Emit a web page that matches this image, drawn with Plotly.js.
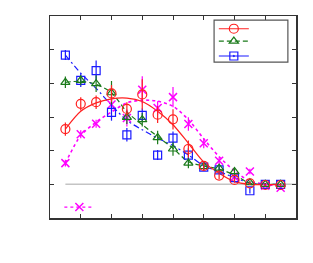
<!DOCTYPE html>
<html>
<head>
<meta charset="utf-8">
<script src="https://cdn.plot.ly/plotly-3.0.1.min.js"></script>
<style>html,body{margin:0;padding:0;background:#fff;}#chart{width:313px;height:263px;}</style>
</head>
<body>
<div id="chart"></div>
<script>
// x positions of the measurements
const xVals = [0.5, 1, 1.5, 2, 2.5, 3, 3.5, 4, 4.5, 5, 5.5, 6, 6.5, 7, 7.5];

// series A (red circles)
const redY   = [1.64, 2.39, 2.44, 2.70, 2.24, 2.67, 2.07, 1.93, 1.05, 0.55, 0.26, 0.13, 0.03, -0.02, -0.02];
const redErr = [0.20, 0.20, 0.20, 0.25, 0.20, 0.45, 0.25, 0.30, 0.25, 0.12, 0.10, 0.08, 0.05, 0.04, 0.04];
const redFit = [1.64, 2.17, 2.42, 2.54, 2.56, 2.46, 2.17, 1.77, 1.22, 0.66, 0.33, 0.08, 0.00, -0.01, -0.01];

// series B (green triangles)
const greenY   = [3.03, 3.09, 2.99, 2.72, 1.99, 1.92, 1.39, 1.05, 0.63, 0.53, 0.48, 0.38, 0.05, 0.00, 0.00];
const greenErr = [0.17, 0.15, 0.25, 0.35, 0.20, 0.20, 0.20, 0.20, 0.15, 0.10, 0.10, 0.10, 0.05, 0.04, 0.04];
const greenFit = [3.03, 3.06, 2.97, 2.72, 2.15, 1.77, 1.42, 1.07, 0.67, 0.55, 0.45, 0.28, 0.03, 0.00, 0.00];

// series C (blue squares)
const blueY   = [3.84, 3.09, 3.38, 2.14, 1.47, 2.05, 0.87, 1.37, 0.87, 0.51, 0.43, 0.20, -0.19, 0.00, 0.00];
const blueErr = [0.15, 0.20, 0.30, 0.25, 0.20, 0.20, 0.15, 0.20, 0.20, 0.10, 0.10, 0.10, 0.08, 0.04, 0.04];
const blueFit = [3.84, 3.30, 2.85, 2.35, 1.90, 1.62, 1.37, 1.15, 0.87, 0.55, 0.38, 0.20, 0.04, 0.00, 0.00];

// series D (magenta crosses)
const magY   = [0.63, 1.49, 1.80, 2.37, 1.97, 2.81, 2.27, 2.59, 1.79, 1.22, 0.70, 0.22, 0.38, -0.04, -0.10];
const magErr = [0.10, 0.12, 0.12, 0.20, 0.25, 0.40, 0.20, 0.30, 0.20, 0.15, 0.10, 0.10, 0.08, 0.05, 0.05];
const magFit = [0.63, 1.45, 1.85, 2.15, 2.42, 2.50, 2.47, 2.32, 1.92, 1.35, 0.82, 0.40, 0.10, 0.00, -0.05];

const RED = '#ff2020', GREEN = '#1a7a1a', BLUE = '#1a1aff', MAG = '#ff00ff';

function fit(y, color, dash, width) {
  return {x: xVals, y: y, type: 'scatter', mode: 'lines', showlegend: false, hoverinfo: 'skip',
          line: {color: color, dash: dash, width: width, shape: 'spline', smoothing: 0.8}};
}
function pts(y, err, color, symbol, size, lw) {
  return {x: xVals, y: y, type: 'scatter', mode: 'markers', showlegend: false,
          marker: {symbol: symbol, size: size, color: color, line: {color: color, width: lw}},
          error_y: {type: 'data', array: err, visible: true, color: color, thickness: 1.2, width: 0}};
}
function leg(color, dash, symbol, size, lw, legendId) {
  return {x: [null], y: [null], type: 'scatter', mode: 'lines+markers', name: '', legend: legendId,
          line: {color: color, dash: dash, width: 1.2},
          marker: {symbol: symbol, size: size, color: color, line: {color: color, width: lw}}};
}

const data = [
  fit(magFit, MAG, 'dot', 1.6),
  fit(blueFit, BLUE, '6px,3px,2px,3px', 1.2),
  fit(greenFit, GREEN, '5px,3px', 1.2),
  fit(redFit, RED, 'solid', 1.2),
  pts(magY, magErr, MAG, 'x-thin-open', 8, 1.5),
  pts(blueY, blueErr, BLUE, 'square-open', 8, 1.2),
  pts(greenY, greenErr, GREEN, 'triangle-up-open', 8, 1.2),
  pts(redY, redErr, RED, 'circle-open', 9, 1.2),
  leg(RED, 'solid', 'circle-open', 9, 1.2, 'legend'),
  leg(GREEN, '5px,3px', 'triangle-up-open', 8, 1.2, 'legend2'),
  leg(BLUE, 'solid', 'square-open-dot', 8, 1.2, 'legend3'),
  leg(MAG, 'dot', 'x-thin-open', 8, 1.5, 'legend4')
];

function legendAt(xp, yp) {
  return {x: xp, y: yp, xanchor: 'left', yanchor: 'middle', bgcolor: 'rgba(0,0,0,0)',
          borderwidth: 0, font: {size: 10, family: 'DejaVu Sans'}};
}

const axisCommon = {showgrid: false, zeroline: false, showline: true, linecolor: '#333', linewidth: 1.5,
                    mirror: 'ticks', ticks: 'inside', ticklen: 4, tickcolor: '#333', tickwidth: 1,
                    showticklabels: false, fixedrange: true};

const layout = {
  width: 313, height: 263,
  margin: {l: 50, r: 17, t: 16, b: 45, pad: 0},
  paper_bgcolor: '#fff', plot_bgcolor: '#fff',
  xaxis: Object.assign({range: [0, 8], dtick: 1, tick0: 0}, axisCommon),
  yaxis: Object.assign({range: [-1, 5], dtick: 1, tick0: 0}, axisCommon),
  showlegend: true,
  legend: legendAt(0.666, 0.937),
  legend2: legendAt(0.666, 0.876),
  legend3: legendAt(0.666, 0.802),
  legend4: legendAt(0.038, 0.054),
  shapes: [
    {type: 'line', xref: 'x', yref: 'y', x0: 0.5, x1: 8, y0: 0, y1: 0, layer: 'below',
     line: {color: '#c4c4c4', width: 1.5}},
    {type: 'rect', xref: 'paper', yref: 'paper', x0: 0.667, x1: 0.967, y0: 0.772, y1: 0.980,
     line: {color: '#555', width: 1.2}, fillcolor: 'rgba(0,0,0,0)'}
  ]
};

Plotly.newPlot('chart', data, layout, {displayModeBar: false, staticPlot: true});
</script>
</body>
</html>
